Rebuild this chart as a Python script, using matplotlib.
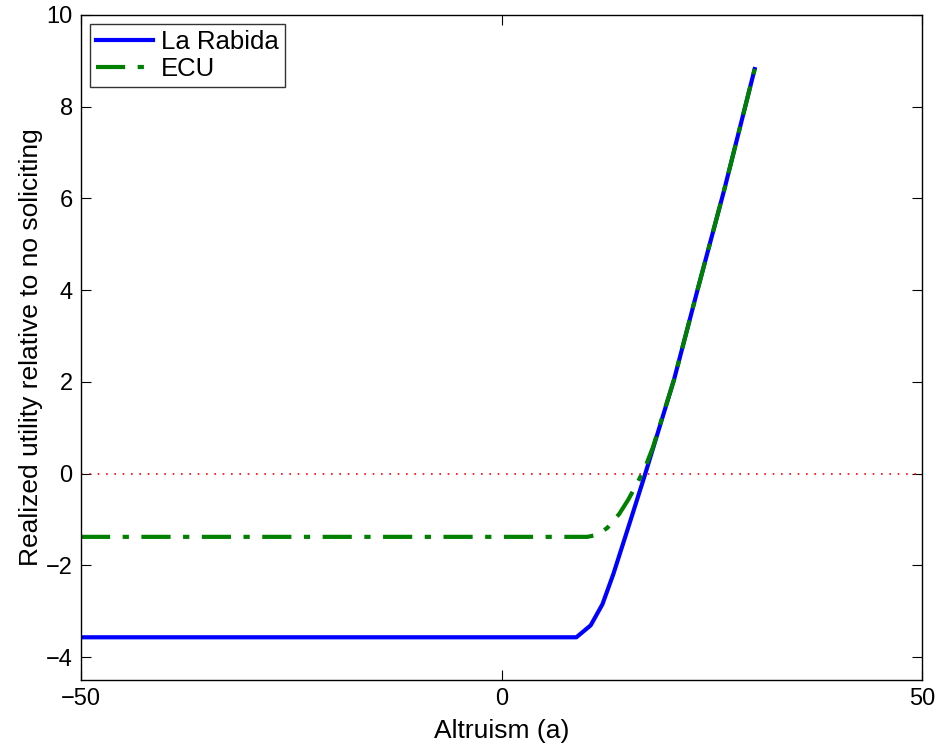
import numpy as np
from matplotlib import pyplot as plt

# altruism grid points and realized utility
rabida_x = [-50, 0, 8.9, 10.6, 12.0, 13.3, 15.2, 17.1, 20.5, 23.3, 26.5, 30.1]
rabida_y = [-3.57, -3.57, -3.57, -3.31, -2.85, -2.19, -1.10, 0.0, 2.04, 4.0, 6.2, 8.82]

ecu_x = [-50, 0, 10.2, 11.5, 12.6, 14.0, 15.1, 16.1, 17.0, 18.0, 20.5, 23.3, 26.5, 30.1]
ecu_y = [-1.38, -1.38, -1.38, -1.33, -1.18, -0.88, -0.56, -0.22, 0.10, 0.57, 2.04, 4.0, 6.2, 8.82]

plt.rcParams['font.family'] = ['Liberation Sans', 'DejaVu Sans']

fig = plt.figure(figsize=(9.45, 7.48), dpi=100)
ax = fig.add_axes([0.0857, 0.091, 0.89, 0.889])

ax.axhline(0, color='red', linestyle=(0, (1, 4)), linewidth=1.2)
ax.plot(rabida_x, rabida_y, color='blue', linewidth=3, label='La Rabida')
ax.plot(ecu_x, ecu_y, color='green', linewidth=3, linestyle=(0, (7, 3, 1.5, 3)), label='ECU')

ax.set_xlim(-50, 50)
ax.set_ylim(-4.5, 10)
ax.set_xticks([-50, 0, 50])
ax.set_yticks(np.arange(-4, 11, 2))
ax.tick_params(direction='in', top=True, right=True, labelsize=17, length=7, pad=6)
for s in ax.spines.values():
    s.set_linewidth(1)

ax.set_xlabel('Altruism (a)', fontsize=19, labelpad=6)
ax.set_ylabel('Realized utility relative to no soliciting', fontsize=19, labelpad=2)

leg = ax.legend(loc='upper left', fontsize=18.5, frameon=True, fancybox=False,
                edgecolor='black', borderaxespad=0.35, handlelength=2.2,
                handletextpad=0.3, labelspacing=0.1, borderpad=0.25)
leg.get_frame().set_linewidth(1)

plt.savefig('out.png', dpi=100)
